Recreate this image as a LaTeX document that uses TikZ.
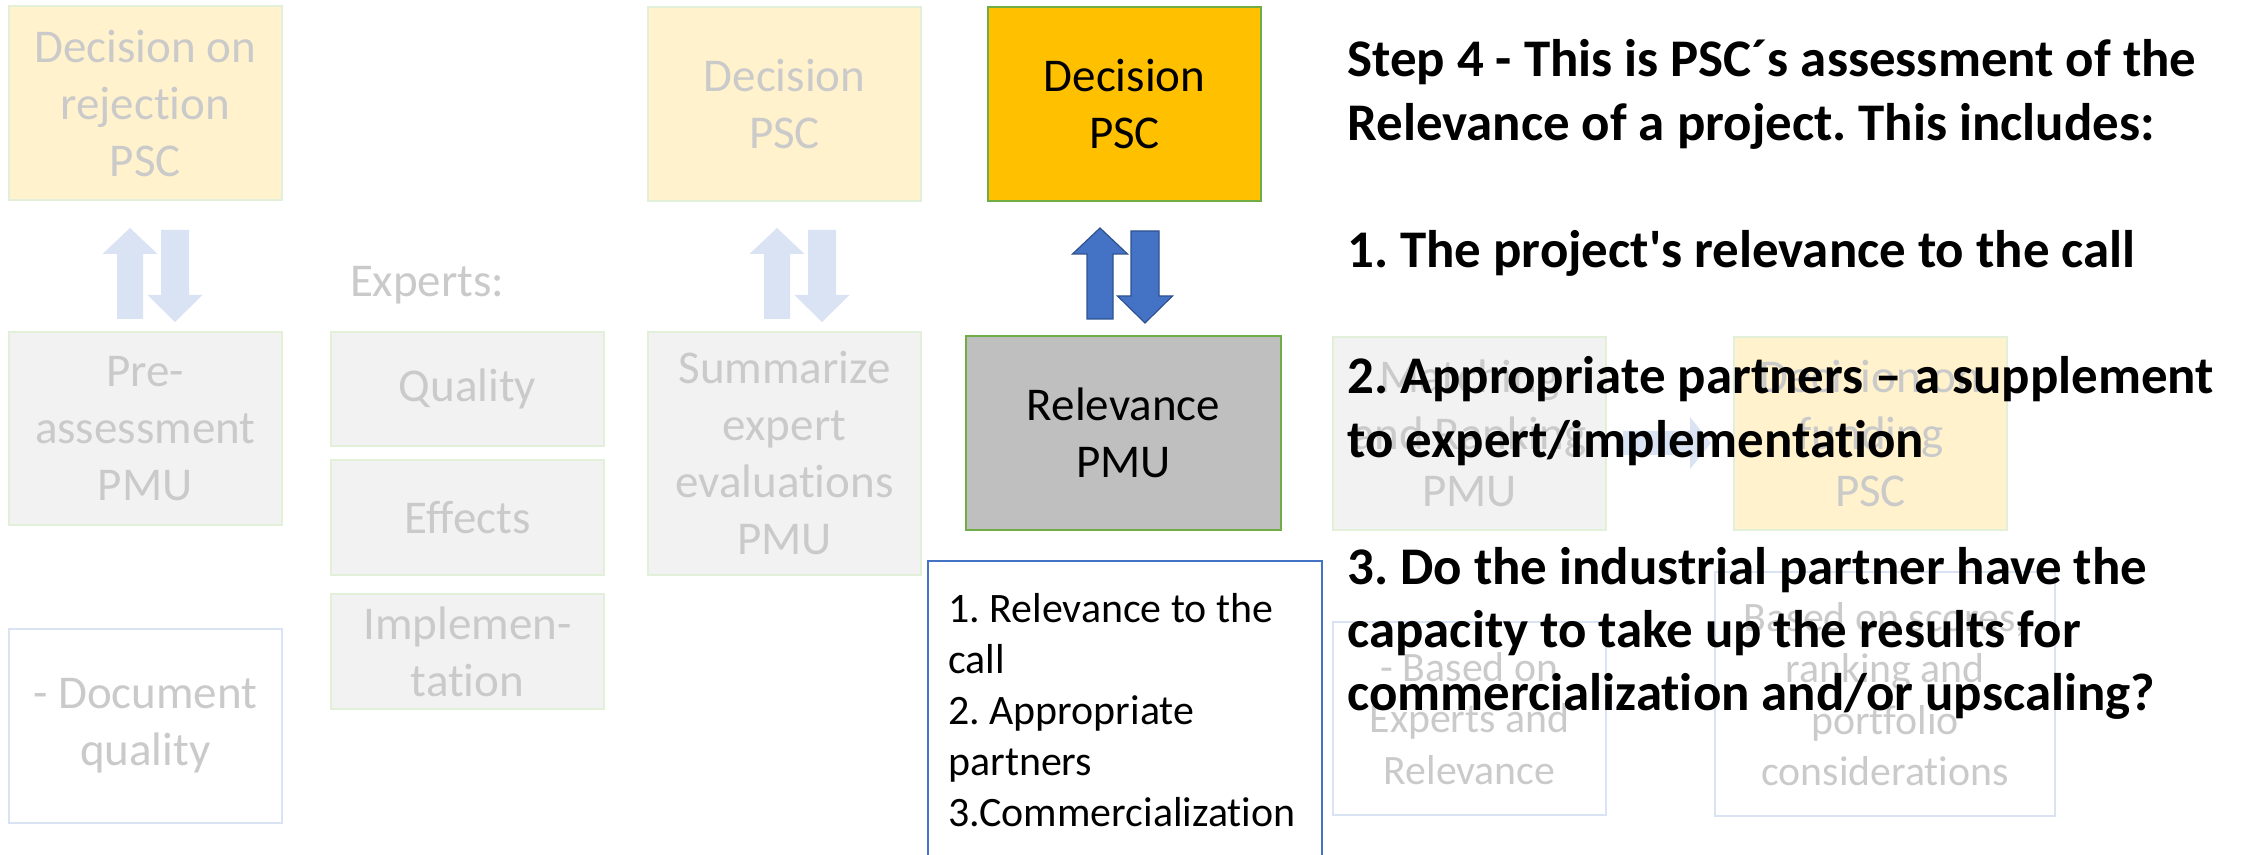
\documentclass[tikz,border=0pt]{standalone}
\usepackage{fontspec}
\setmainfont{Carlito}[Ligatures={TeXOff,NoCommon}]
\definecolor{pyel}{HTML}{FFF2CC}
\definecolor{pgrn}{HTML}{E2F0D9}
\definecolor{pgray}{HTML}{F2F2F2}
\definecolor{pblue}{HTML}{DAE3F3}
\definecolor{ftxt}{HTML}{CACACA}
\definecolor{gold}{HTML}{FFC000}
\definecolor{agrn}{HTML}{70AD47}
\definecolor{mgray}{HTML}{BFBFBF}
\definecolor{ablue}{HTML}{4472C4}
\definecolor{dblue}{HTML}{2F528F}
\tikzset{
  box/.style={rectangle, inner sep=0pt, outer sep=0pt, align=center, line width=1pt},
  bigtxt/.style={font=\fontsize{23.5pt}{28.5pt}\selectfont},
  smalltxt/.style={font=\fontsize{20.9pt}{25.75pt}\selectfont},
  fyel/.style={box, bigtxt, fill=pyel, draw=pgrn, text=ftxt},
  fgray/.style={box, bigtxt, fill=pgray, draw=pgrn, text=ftxt},
  fwhite/.style={box, fill=white, draw=pblue, text=ftxt},
  farrow/.style={fill=pblue, draw=none},
  barrow/.style={fill=ablue, draw=dblue, line width=0.6pt, line join=miter},
}
\begin{document}
\frenchspacing
\begin{tikzpicture}[x=0.5pt, y=-0.5pt]
\useasboundingbox[fill=white] (0,0) rectangle (2250,855);

% faded top row
\node[fyel, minimum width=136.75pt, minimum height=97pt] (rej) at (145.25,103) {Decision on\\rejection\\PSC};
\node[fyel, minimum width=136.5pt, minimum height=97pt] (decf) at (784.5,104) {Decision\\PSC};

% faded second row
\node[fgray, minimum width=136.75pt, minimum height=96.5pt] (pre) at (145.25,428.5) {Pre-\\assessment\\PMU};
\node[box, bigtxt, text=ftxt, anchor=base west] (exp) at (350,297) {Experts:};
\node[fgray, minimum width=136.5pt, minimum height=57pt] (qual) at (467.5,389) {Quality};
\node[fgray, minimum width=136.5pt, minimum height=57.5pt] (eff) at (467.5,517.5) {Effects};
\node[fgray, minimum width=136.5pt, minimum height=57.5pt] (impl) at (467.5,651.5) {Implemen-\\tation};
\node[fgray, minimum width=136.5pt, minimum height=121.5pt] (summ) at (784.5,453.5) {Summarize\\expert\\evaluations\\PMU};
\node[fwhite, bigtxt, minimum width=136.75pt, minimum height=97pt] (doc) at (145.25,726) {- Document\\quality};

% faded right part
\node[fgray, minimum width=136.5pt, minimum height=96.5pt] (match) at (1469.5,433.5) {Matching\\and Ranking\\PMU};
\node[fyel, minimum width=136.5pt, minimum height=96.5pt] (fund) at (1870.5,433.5) {Decision on\\funding\\PSC};
\node[fwhite, smalltxt, minimum width=136.5pt, minimum height=96.5pt] (basedon) at (1469.5,718.5) {- Based on\\Experts and\\Relevance};
\node[fwhite, smalltxt, minimum width=170pt, minimum height=122pt] (scores) at (1885,694) {Based on scores,\\ranking and\\portfolio\\considerations};
\draw[farrow] (1623,431) -- (1690,431) -- (1690,417) -- (1711,443) -- (1690,469) -- (1690,455) -- (1623,455) -- cycle;

% faded up/down arrow pairs
\foreach \c/\d in {130/175, 777/822} {
  \fill[pblue] ({\c-13},319) -- ({\c-13},254) -- ({\c-27.5},254) -- (\c,228) -- ({\c+27.5},254) -- ({\c+13},254) -- ({\c+13},319) -- cycle;
  \fill[pblue] ({\d-14},230) -- ({\d+14},230) -- ({\d+14},295) -- ({\d+27.5},295) -- (\d,322) -- ({\d-27.5},295) -- ({\d-14},295) -- cycle;
}

% active step
\node[box, bigtxt, fill=gold, draw=agrn, minimum width=136.5pt, minimum height=97pt] (dec) at (1124.5,104) {Decision\\PSC};
\node[box, bigtxt, fill=mgray, draw=agrn, minimum width=157.5pt, minimum height=97pt] (rel) at (1123.5,433) {Relevance\\PMU};
\draw[barrow] (1087,319) -- (1087,254) -- (1072.5,254) -- (1100,228) -- (1127.5,254) -- (1113,254) -- (1113,319) -- cycle;
\draw[barrow] (1131,231) -- (1159,231) -- (1159,296) -- (1172.5,296) -- (1145,323) -- (1117.5,296) -- (1131,296) -- cycle;

\node[box, draw=ablue, fill=white, minimum width=197pt, minimum height=170pt, anchor=north west] (crit) at (928,561) {};
\node[anchor=base west, inner sep=0pt, font=\fontsize{20.95pt}{25.6pt}\selectfont] (crittxt) at (948,622)
  {\vtop{\hbox{1. Relevance to the}\hbox{call}\hbox{2. Appropriate}\hbox{partners}\hbox{3.Commercialization}}};

% explanation text
\node[anchor=base west, inner sep=0pt, font=\bfseries\fontsize{26.45pt}{31.7pt}\selectfont] (step) at (1347,77)
  {\vtop{\hbox{Step 4 - This is PSC´s assessment of the}\hbox{Relevance of a project. This includes:}\hbox{}%
  \hbox{1. The project's relevance to the call}\hbox{}%
  \hbox{2. Appropriate partners – a supplement}\hbox{to expert/implementation}\hbox{}%
  \hbox{3. Do the industrial partner have the}\hbox{capacity to take up the results for}\hbox{commercialization and/or upscaling?}}};
\end{tikzpicture}
\end{document}
